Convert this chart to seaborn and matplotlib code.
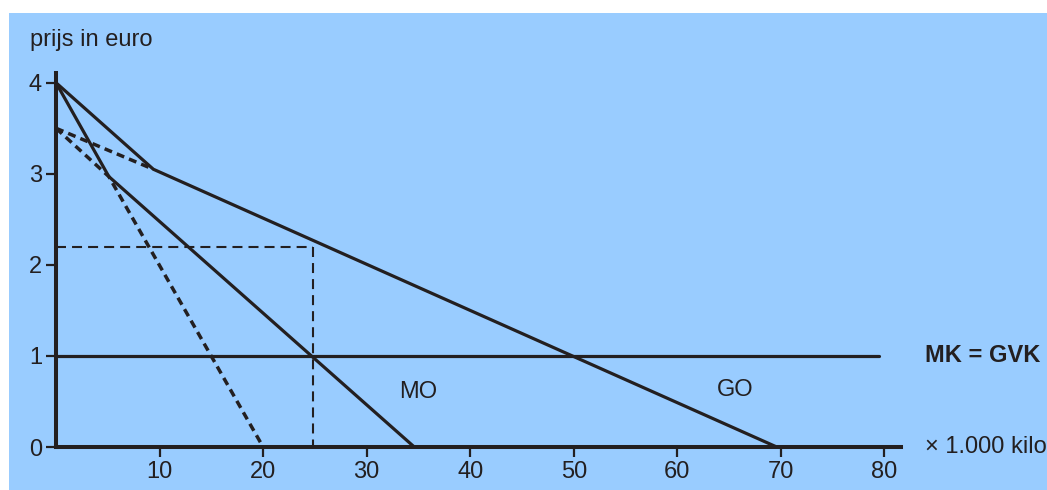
import matplotlib
matplotlib.use("Agg")
import matplotlib.pyplot as plt
import seaborn as sns
import pandas as pd
from matplotlib.patches import Rectangle

# data (x in 1.000 kilo, y in euro)
go_x = [0, 9.4, 69.6]
go_y = [4, 3.05, 0]
mo_x = [0, 5.1, 34.6]
mo_y = [4, 2.97, 0]
mo_dash_x = [0, 5.1, 20]
mo_dash_y = [3.5, 2.97, 0]
go_dash_x = [0, 9.4]
go_dash_y = [3.5, 3.05]
mk_x = [0, 79.5]
mk_y = [1, 1]
q_opt = 24.8
p_opt = 2.2
x_ticks = [10, 20, 30, 40, 50, 60, 70, 80]
y_ticks = [0, 1, 2, 3, 4]

ink = "#231F20"
blue = "#99CCFF"

sns.set_style("ticks")
plt.rcParams["font.family"] = ["Liberation Sans", "DejaVu Sans"]
plt.rcParams["text.color"] = ink

fig = plt.figure(figsize=(10.47, 4.90), dpi=100)
# blue panel behind everything, leaving a thin white strip top and left
fig.patches.append(Rectangle((9 / 1047, 0), 1, (490 - 13) / 490,
                             transform=fig.transFigure, facecolor=blue,
                             edgecolor="none", zorder=-10))

ax = fig.add_axes([56 / 1047, 43 / 490, 845 / 1047, 374.3 / 490])
ax.set_facecolor("none")
ax.set_zorder(5)

def draw(xs, ys, lw, ls="-"):
    df = pd.DataFrame({"x": xs, "y": ys})
    sns.lineplot(data=df, x="x", y="y", ax=ax, sort=False, estimator=None,
                 color=ink, linewidth=lw, linestyle=ls, clip_on=False)

draw(go_x, go_y, 2.3)
draw(mo_x, mo_y, 2.3)
draw(mk_x, mk_y, 2.3)
draw(mo_dash_x, mo_dash_y, 2.5, (0, (2.3, 1.5)))
draw(go_dash_x, go_dash_y, 2.5, (0, (2.3, 1.5)))
draw([0, q_opt], [p_opt, p_opt], 1.5, (0, (4.8, 2.9)))
draw([q_opt, q_opt], [p_opt, 0], 1.5, (0, (4.8, 2.9)))

ax.set_xlim(0, 81.6)
ax.set_ylim(0, 4.11)
ax.set_xticks(x_ticks)
ax.set_yticks(y_ticks)
ax.set_xlabel("")
ax.set_ylabel("")
sns.despine(ax=ax)
for side in ["left", "bottom"]:
    ax.spines[side].set_linewidth(2.9)
    ax.spines[side].set_color(ink)
ax.tick_params(axis="both", length=7, width=1.6, color=ink, labelcolor=ink,
               labelsize=17, pad=3)

ax.text(35, 0.6, "MO", fontsize=17, ha="center", va="center")
ax.text(65.6, 0.63, "GO", fontsize=17, ha="center", va="center")
ax.text(83.9, 1, "MK = GVK", fontsize=17, fontweight="bold",
        ha="left", va="center", clip_on=False)
ax.text(83.9, 0, "\u00d7 1.000 kilo", fontsize=17, ha="left", va="center",
        clip_on=False)
fig.text(30 / 1047, 1 - 40 / 490, "prijs in euro", fontsize=17,
         ha="left", va="center")

fig.savefig("out.png", dpi=100, facecolor="white")
